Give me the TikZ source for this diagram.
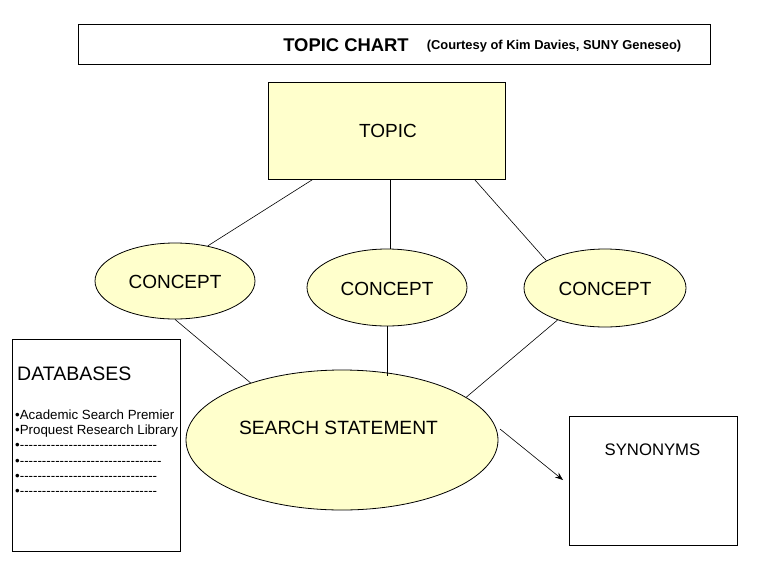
\documentclass[tikz,border=0pt]{standalone}
\usepackage{fontspec}
\setmainfont{Liberation Sans}[Ligatures=TeXOff]
\usetikzlibrary{shapes.geometric,arrows.meta,calc}
\definecolor{paleyellow}{HTML}{FFFFCC}
\tikzset{
  box/.style={draw=black, line width=0.9pt, rectangle, inner sep=0pt},
  yellowbox/.style={box, fill=paleyellow},
  oval/.style={draw=black, line width=0.8pt, ellipse, fill=paleyellow, inner sep=0pt},
  txt/.style={inner sep=0pt, font=\fontsize{19}{22}\selectfont},
  itemtxt/.style={inner sep=0pt, anchor=west, font=\fontsize{13.3}{15}\selectfont},
  link/.style={draw=black, line width=0.6pt},
}
\begin{document}
\begin{tikzpicture}[x=1pt,y=-1pt]
\useasboundingbox (0,0) rectangle (768,576);
% title
\node[box, minimum width=632pt, minimum height=40pt] (titlebox) at (394,44) {};
\node[inner sep=0pt, font=\bfseries\fontsize{18.4}{21}\selectfont] (ttl) at (346,45) {TOPIC CHART};
\node[inner sep=0pt, font=\bfseries\fontsize{12.9}{15}\selectfont] (court) at (554,46.5) {(Courtesy of Kim Davies, SUNY Geneseo)};
% topic
\node[yellowbox, minimum width=237pt, minimum height=97pt] (topic) at (386.5,130.5) {};
\node[txt] (topictxt) at (388,131) {TOPIC};
% concepts
\node[oval, minimum width=160pt, minimum height=76pt] (c1) at (175,281) {};
\node[txt] (c1txt) at (175,282) {CONCEPT};
\node[oval, minimum width=160pt, minimum height=77pt] (c2) at (387,287.5) {};
\node[txt] (c2txt) at (387,289) {CONCEPT};
\node[oval, minimum width=162pt, minimum height=78pt] (c3) at (605,288) {};
\node[txt] (c3txt) at (605,289) {CONCEPT};
% search statement
\node[oval, minimum width=312pt, minimum height=140pt] (s) at (342,440) {};
\node[txt, font=\fontsize{19.2}{22}\selectfont] (stxt) at (338.5,428) {SEARCH STATEMENT};
% synonyms
\node[box, minimum width=168pt, minimum height=129pt] (syn) at (653,480.5) {};
\node[inner sep=0pt, font=\fontsize{16.7}{19}\selectfont] (syntxt) at (652.5,450) {SYNONYMS};
% databases
\node[box, minimum width=168pt, minimum height=212pt] (db) at (96,445) {};
\node[itemtxt, font=\fontsize{19.5}{22}\selectfont] (dbtitle) at (17,374) {DATABASES};
\node[itemtxt] (i1) at (15,415) {•Academic Search Premier};
\node[itemtxt] (i2) at (15,431) {•Proquest Research Library};
\node[itemtxt] (i3) at (15,446) {•-------------------------------};
\node[itemtxt] (i4) at (15,462) {•--------------------------------};
\node[itemtxt] (i5) at (15,477) {•-------------------------------};
\node[itemtxt] (i6) at (15,492) {•-------------------------------};
% connectors
\coordinate (t1) at ($(topic.south west)!0.19!(topic.south east)$);
\coordinate (t2) at ($(topic.south west)!0.515!(topic.south east)$);
\coordinate (t3) at ($(topic.south west)!0.87!(topic.south east)$);
\draw[link] (t1) -- (c1.47);
\draw[link] (t2) -- (t2 |- c2.north);
\draw[link] (t3) -- (c3.155);
\draw[link] (c1.south) -- (s.148);
\draw[link] (c2.south) -- ($(c2.south |- s.north)+(0,6)$);
\draw[link] (c3.214) -- (s.19);
\coordinate (a1) at (500,429);
\coordinate (a2) at (563,480);
\draw[link, -{Stealth[length=8pt,width=6pt]}] (a1) -- (a2);
\end{tikzpicture}
\end{document}
